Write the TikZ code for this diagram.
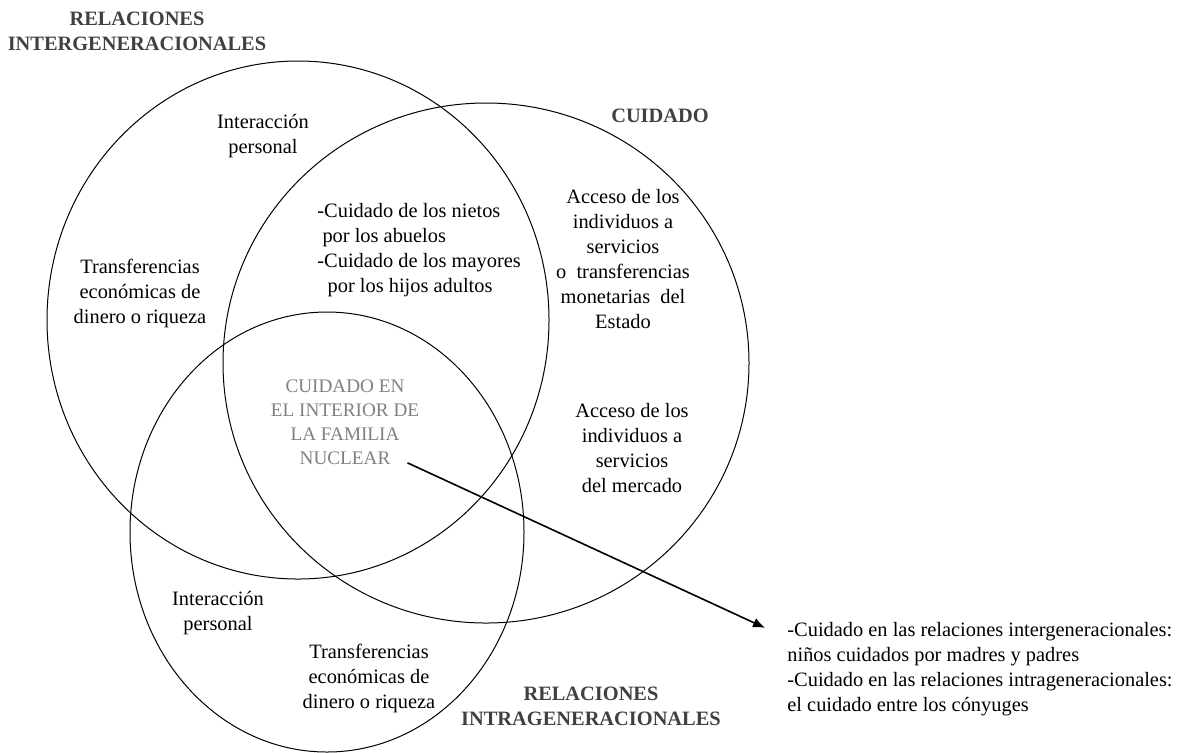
\documentclass[tikz,border=0pt]{standalone}
\usepackage{fontspec}
\setmainfont{Liberation Serif}
\usepackage{xcolor}
\usepackage{tikz}
\usetikzlibrary{arrows.meta,positioning,calc}

\definecolor{titlegray}{RGB}{64,64,64}
\definecolor{coregray}{RGB}{128,128,128}

\tikzset{
    txt/.style={font=\fontsize{10.2}{12.5}\selectfont, align=center, inner sep=0pt},
    title/.style={txt, font=\fontsize{10.2}{12.5}\selectfont\bfseries, text=titlegray},
    core/.style={txt, font=\fontsize{9.6}{12}\selectfont, text=coregray},
    venn/.style={line width=0.5pt},
    pointer/.style={line width=0.8pt, -{Latex[length=6pt,width=5pt]}}
}

\begin{document}
\begin{tikzpicture}[x=0.5pt, y=-0.5pt]
    \useasboundingbox (0,0) rectangle (1188,752);

    % The three sets
    \draw[venn] (298,320) ellipse [x radius=251, y radius=259]; % intergeneracionales
    \draw[venn] (486,363) ellipse [x radius=263, y radius=260]; % cuidado
    \draw[venn] (327,532) ellipse [x radius=197, y radius=220]; % intrageneracionales

    % Set titles
    \node[title] (tinter) at (137,31) {RELACIONES\\INTERGENERACIONALES};
    \node[title] (tcare)  at (660,116) {CUIDADO};
    \node[title] (tintra) at (591,706) {RELACIONES\\INTRAGENERACIONALES};

    % Intergenerational set only
    \node[txt] (interA) at (263,136) {Interacción\\personal};
    \node[txt] (transA) at (140,293) {Transferencias\\económicas de\\dinero o riqueza};

    % Intergenerational and care
    \node[txt, align=left, anchor=west] (grand) at (317,250)
        {-Cuidado de los nietos\\\ por los abuelos\\-Cuidado de los mayores\\\ \ por los hijos adultos};

    % Care set only
    \node[txt] (state)  at (623,259) {Acceso de los\\individuos a\\servicios\\o\ \ transferencias\\monetarias\ \ del\\Estado};
    \node[txt] (market) at (632,448) {Acceso de los\\individuos a\\servicios\\del mercado};

    % All three sets
    \node[core] (nuclear) at (345,422) {CUIDADO EN\\EL INTERIOR DE\\LA FAMILIA\\NUCLEAR};

    % Intragenerational set only
    \node[txt] (interC) at (218,613) {Interacción\\personal};
    \node[txt] (transC) at (369,678) {Transferencias\\económicas de\\dinero o riqueza};

    % Note on the right
    \node[txt, align=left, anchor=west] (note) at (787,669)
        {-Cuidado en las relaciones intergeneracionales:\\niños cuidados por madres y padres\\-Cuidado en las relaciones intrageneracionales:\\el cuidado entre los cónyuges};

    \draw[pointer] ([xshift=-6pt,yshift=1pt]nuclear.south east) -- ([xshift=-11pt,yshift=-3pt]note.north west);
\end{tikzpicture}
\end{document}
